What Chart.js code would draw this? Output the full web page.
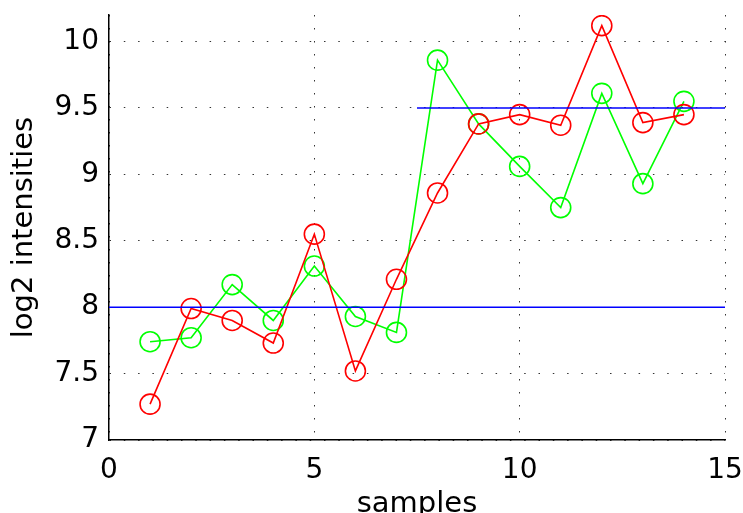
<!DOCTYPE html>
<html>
<head>
<meta charset="utf-8">
<script src="https://cdn.jsdelivr.net/npm/chart.js@4/dist/chart.umd.min.js"></script>
<style>
html,body{margin:0;padding:0;background:#fff;}
#wrap{width:743px;height:513px;}
</style>
</head>
<body>
<div id="wrap"><canvas id="c" width="743" height="513"></canvas></div>
<script>
const samples = [1,2,3,4,5,6,7,8,9,10,11,12,13,14];
const redValues = [7.27,7.99,7.90,7.73,8.55,7.52,8.21,8.86,9.38,9.45,9.37,10.12,9.39,9.45];
const greenValues = [7.74,7.77,8.17,7.90,8.31,7.93,7.81,9.86,9.38,9.06,8.75,9.61,8.93,9.55];
const lowerLevel = {x: [0, 15], y: 8};
const upperLevel = {x: [7.5, 15], y: 9.5};
const xTicks = [0,5,10,15];
const yTicks = [7,7.5,8,8.5,9,9.5,10];
const xLabel = 'samples';
const yLabel = 'log2 intensities';

const pts = (xs, ys) => xs.map((x,i)=>({x:x, y:ys[i]}));
const hline = (lv) => lv.x.map(x=>({x:x, y:lv.y}));

const FONT = "'DejaVu Sans', sans-serif";

new Chart(document.getElementById('c'), {
  type: 'line',
  data: {
    datasets: [
      {data: hline(lowerLevel), borderColor:'#0000ff', borderWidth:1.6, pointRadius:0, order:0},
      {data: hline(upperLevel), borderColor:'#0000ff', borderWidth:1.6, pointRadius:0, order:0},
      {data: pts(samples, redValues), borderColor:'#ff0000', borderWidth:1.6,
       pointRadius:10, pointStyle:'circle', pointBorderColor:'#ff0000', pointBackgroundColor:'rgba(0,0,0,0)', pointBorderWidth:1.6, order:1},
      {data: pts(samples, greenValues), borderColor:'#00ff00', borderWidth:1.6,
       pointRadius:10, pointStyle:'circle', pointBorderColor:'#00ff00', pointBackgroundColor:'rgba(0,0,0,0)', pointBorderWidth:1.6, order:2}
    ]
  },
  options: {
    responsive:false,
    animation:false,
    events:[],
    layout:{padding:{left:0,right:18,top:15,bottom:0}},
    plugins:{legend:{display:false}, tooltip:{enabled:false}},
    elements:{line:{tension:0}},
    scales:{
      x:{
        type:'linear', min:0, max:15,
        afterBuildTicks:(s)=>{s.ticks = xTicks.map(v=>({value:v}));},
        afterFit:(s)=>{s.height = 73; s.paddingLeft = 0; s.paddingRight = 0;},
        ticks:{color:'#000', font:{family:FONT, size:28}, padding:14, maxRotation:0},
        grid:{color:'#333', lineWidth:1, drawTicks:false},
        border:{display:true, color:'#000', width:1.5, dash:[1.5,11.5]},
        title:{display:true, text:xLabel, color:'#000', font:{family:FONT, size:29}, padding:{top:0,bottom:-9}}
      },
      y:{
        type:'linear', min:7, max:10.2,
        afterBuildTicks:(s)=>{s.ticks = yTicks.map(v=>({value:v}));},
        afterFit:(s)=>{s.width = 109; s.paddingTop = 0; s.paddingBottom = 0;},
        ticks:{color:'#000', font:{family:FONT, size:28}, padding:10,
               callback:(v)=>String(v)},
        grid:{color:'#333', lineWidth:1, drawTicks:false},
        border:{display:true, color:'#000', width:1.5, dash:[1.5,12.8]},
        title:{display:true, text:yLabel, color:'#000', font:{family:FONT, size:29}, padding:{top:7,bottom:0}}
      }
    }
  }
});
</script>
</body>
</html>
